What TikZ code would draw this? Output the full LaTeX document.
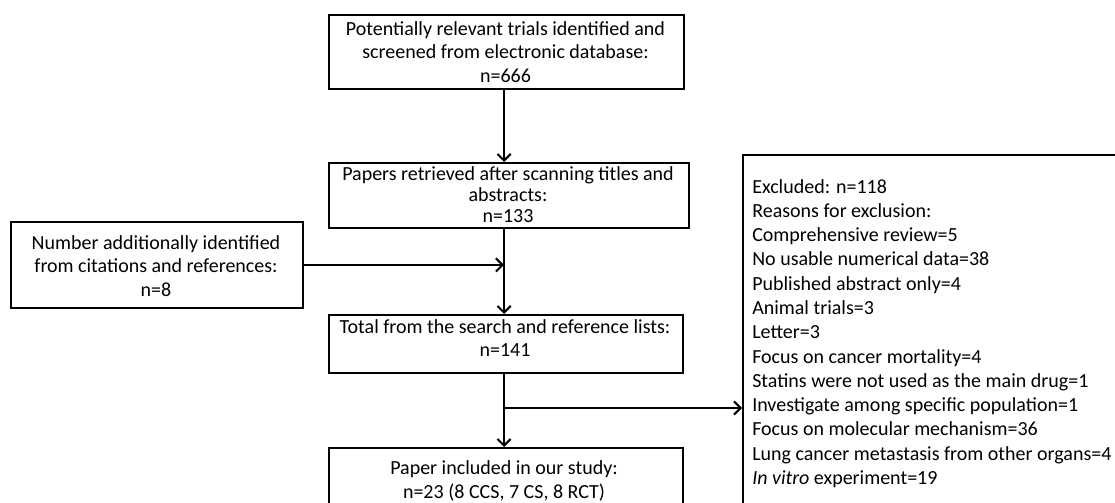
\documentclass[tikz,border=0pt]{standalone}
\usepackage{fontspec}
\setmainfont{Carlito}
\usetikzlibrary{arrows.meta}
\begin{document}
\begin{tikzpicture}[x=0.75pt,y=-0.75pt,
  box/.style={draw=black,line width=1.4pt,anchor=north west,inner sep=0pt},
  txt/.style={inner sep=0pt,align=center,font=\fontsize{15}{17.4}\selectfont},
  tighttxt/.style={inner sep=0pt,align=center,font=\fontsize{15}{16}\selectfont},
  ltxt/.style={inner sep=0pt,align=left,anchor=north west,font=\fontsize{15}{18.2}\selectfont},
  arr/.style={line width=1.5pt,-{Straight Barb[length=5pt,width=10pt]}}]
\useasboundingbox[fill=white] (0,0) rectangle (1115,503);
% boxes
\node[box,minimum width=266.25pt,minimum height=55.5pt] (b1) at (328,14) {};
\node[box,minimum width=270pt,minimum height=48.75pt] (b2) at (328,162) {};
\node[box,minimum width=219pt,minimum height=64.5pt] (bl) at (10,221) {};
\node[box,minimum width=265.5pt,minimum height=43.5pt] (b3) at (328,314) {};
\node[box,minimum width=265.5pt,minimum height=60pt] (b4) at (328,447) {};
\node[box,minimum width=291pt,minimum height=274.5pt] (br) at (742,154) {};
% texts
\node[txt] (t1) at (505.5,52) {Potentially relevant trials identified and\\screened from electronic database:\\n=666};
\node[tighttxt] (t2) at (508,194.5) {Papers retrieved after scanning titles and\\abstracts:\\n=133};
\node[txt] (tl) at (156,266) {Number additionally identified\\from citations and references:\\n=8};
\node[txt] (t3) at (505,338) {Total from the search and reference lists:\\n=141};
\node[txt] (t4) at (504,481) {Paper included in our study:\\n=23 (8 CCS, 7 CS, 8 RCT)};
\node[ltxt] (tr) at (752,179) {Excluded: n=118\\
Reasons for exclusion:\\
Comprehensive review=5\\
No usable numerical data=38\\
Published abstract only=4\\
Animal trials=3\\
Letter=3\\
Focus on cancer mortality=4\\
Statins were not used as the main drug=1\\
Investigate among specific population=1\\
Focus on molecular mechanism=36\\
Lung cancer metastasis from other organs=4\\
\textit{In vitro} experiment=19};
% connectors
\coordinate (tx) at (504,0);
\coordinate (jn) at (504,408);
\draw[arr] (b1.south -| tx) -- (b2.north -| tx);
\draw[arr] (bl.east) -- (bl.east -| tx);
\draw[arr] (b2.south -| tx) -- (b3.north -| tx);
\draw[arr] (b3.south -| tx) -- (b4.north -| tx);
\draw[arr] (jn) -- (jn -| br.west);
\end{tikzpicture}
\end{document}
